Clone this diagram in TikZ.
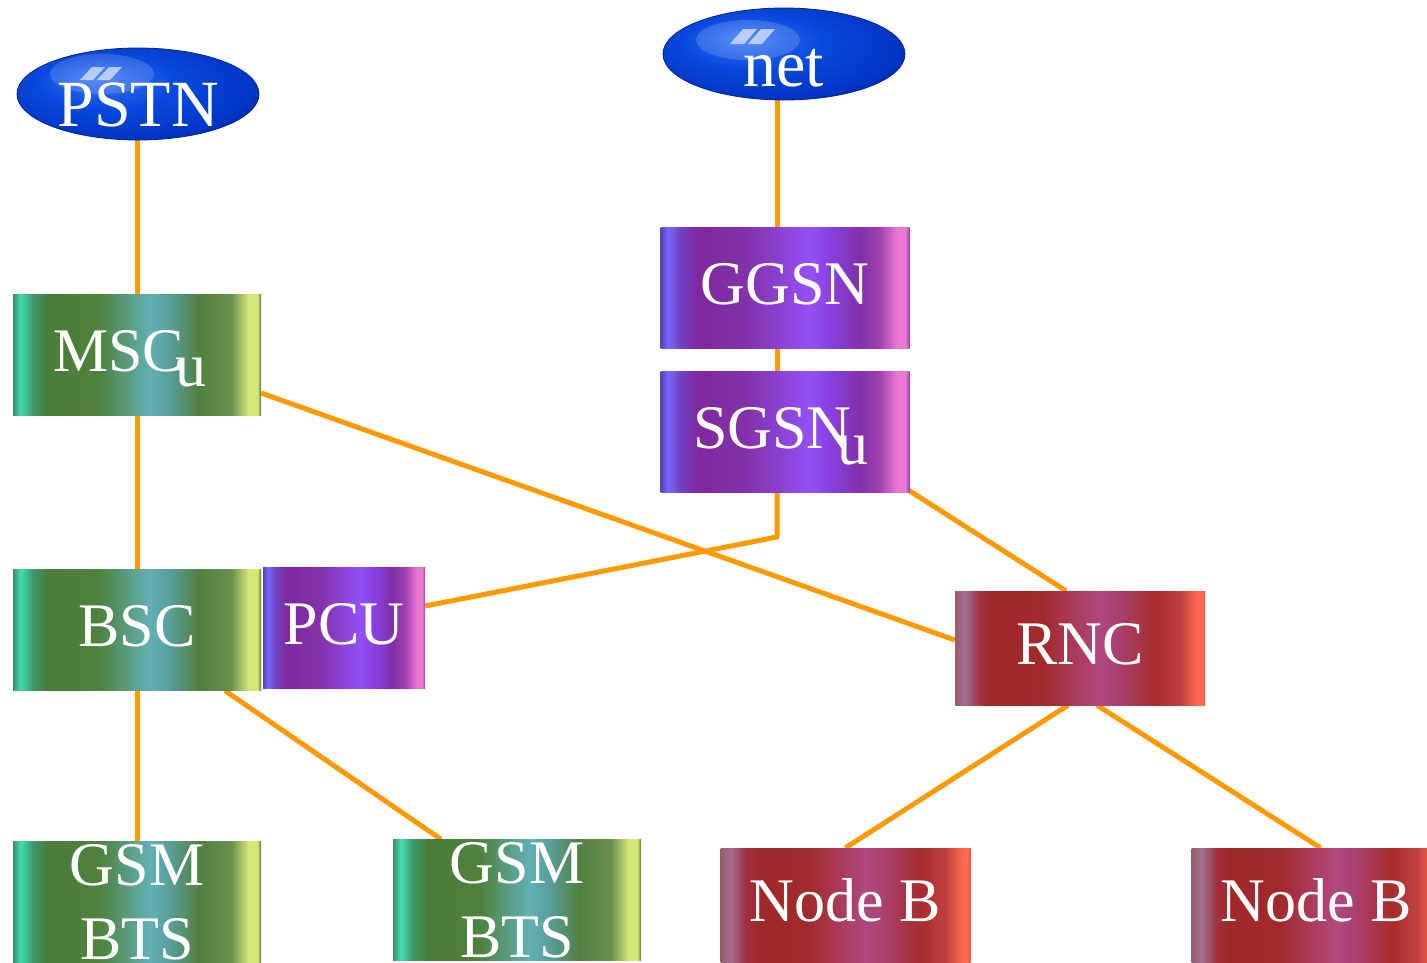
\documentclass[tikz,border=0pt]{standalone}
\usepackage{fontspec}
\setmainfont{Liberation Serif}
\usetikzlibrary{shapes.geometric,calc}
\pgfdeclarelayer{background}
\pgfsetlayers{background,main}

\definecolor{linkc}{HTML}{FF9900}
% green
\definecolor{ga}{HTML}{3A8C6C}\definecolor{gb}{HTML}{45DCB2}\definecolor{gc}{HTML}{3C9868}
\definecolor{gd}{HTML}{4A7C3A}\definecolor{ge}{HTML}{4E823E}\definecolor{gf}{HTML}{62B0B4}
\definecolor{gg}{HTML}{5AA0A0}\definecolor{gh}{HTML}{528040}\definecolor{gi}{HTML}{6A9050}
\definecolor{gj}{HTML}{D4E878}\definecolor{gk}{HTML}{4A7A30}
% purple
\definecolor{pa}{HTML}{6040B0}\definecolor{pb}{HTML}{7868FF}\definecolor{pc}{HTML}{7040C0}
\definecolor{pd}{HTML}{8028A0}\definecolor{pe}{HTML}{8232AA}\definecolor{pf}{HTML}{9450F6}
\definecolor{pg}{HTML}{8A40E0}\definecolor{ph}{HTML}{8030A8}\definecolor{pi}{HTML}{A040B0}
\definecolor{pj}{HTML}{E878D0}\definecolor{pk}{HTML}{9040B0}
% red
\definecolor{ra}{HTML}{9A5A70}\definecolor{rb}{HTML}{A07090}\definecolor{rc}{HTML}{A03040}
\definecolor{rd}{HTML}{A02828}\definecolor{re}{HTML}{A22A2C}\definecolor{rf}{HTML}{B04880}
\definecolor{rg}{HTML}{A84070}\definecolor{rh}{HTML}{A82C2C}\definecolor{ri}{HTML}{C04040}
\definecolor{rj}{HTML}{FF6A50}\definecolor{rk}{HTML}{E05040}
% blue
\definecolor{ba}{HTML}{3A78F6}\definecolor{bb}{HTML}{0A4ADE}\definecolor{bc}{HTML}{0034C4}
\definecolor{bd}{HTML}{00249A}

\pgfdeclarehorizontalshading{greenbar}{100bp}{color(0bp)=(ga); color(25bp)=(ga);
 color(26.5bp)=(gb); color(29bp)=(gc); color(32bp)=(gd); color(42.5bp)=(ge);
 color(52.5bp)=(gf); color(56bp)=(gg); color(62.5bp)=(gh); color(69bp)=(gi);
 color(72.5bp)=(gj); color(74.3bp)=(gj); color(75bp)=(gk); color(100bp)=(gk)}
\pgfdeclarehorizontalshading{purplebar}{100bp}{color(0bp)=(pa); color(25bp)=(pa);
 color(26.5bp)=(pb); color(29bp)=(pc); color(32.5bp)=(pd); color(42.5bp)=(pe);
 color(55bp)=(pf); color(59bp)=(pg); color(65bp)=(ph); color(69bp)=(pi);
 color(72.5bp)=(pj); color(74.2bp)=(pj); color(75bp)=(pk); color(100bp)=(pk)}
\pgfdeclarehorizontalshading{redbar}{100bp}{color(0bp)=(ra); color(25bp)=(ra);
 color(27bp)=(rb); color(30bp)=(rc); color(32.5bp)=(rd); color(42.5bp)=(re);
 color(54bp)=(rf); color(57.5bp)=(rg); color(65bp)=(rh); color(70bp)=(ri);
 color(73.5bp)=(rj); color(74.5bp)=(rj); color(75bp)=(rk); color(100bp)=(rk)}
\pgfdeclareradialshading{blueball}{\pgfpoint{-9bp}{9bp}}{color(0bp)=(ba);
 color(14bp)=(bb); color(28bp)=(bc); color(33bp)=(bd); color(50bp)=(bd)}

\tikzset{
  link/.style={draw=linkc, line width=5pt},
  box/.style={rectangle, inner sep=0pt, text=white,
    font=\fontsize{62}{74}\selectfont, text height=32pt, text depth=0pt},
  gbox/.style={box, shading=greenbar, minimum width=248pt, minimum height=121pt},
  pbox/.style={box, shading=purplebar, minimum width=249pt, minimum height=121pt},
  rbox/.style={box, shading=redbar, minimum width=250pt, minimum height=114pt},
  twoline/.style={text height=, text depth=, align=center},
  cloud/.style={ellipse, inner sep=0pt, minimum width=242pt, minimum height=92pt,
    shading=blueball, draw=bd, line width=0.8pt, text=white,
    font=\fontsize{66}{74}\selectfont, text height=64pt, text depth=0pt},
  gloss/.style={white, opacity=0.6},
}

\begin{document}
\begin{tikzpicture}[x=1pt,y=-1pt]
\useasboundingbox (0,0) rectangle (1427,962);

\node[cloud] (pstn) at (138,94) {PSTN};
\node[cloud] (net) at (784,54) {net};

\node[gbox] (msc) at (137,355) {MSC\kern-8pt\lower15pt\hbox{u}\kern14pt};
\node[pbox] (ggsn) at (785,288) {GGSN};
\node[pbox] (sgsn) at (785,432) {SGSN\kern-14pt\lower16pt\hbox{u}\kern8pt};
\node[gbox] (bsc) at (137,630) {BSC};
\node[pbox, minimum width=162pt] (pcu) at (344,628) {PCU};
\node[rbox] (rnc) at (1080,648) {RNC};
\node[gbox, twoline] (bts1) at (137,902) {GSM\\BTS};
\node[gbox, twoline] (bts2) at (517,900) {GSM\\BTS};
\node[rbox] (nodeb1) at (845.5,905) {Node B};
\node[rbox] (nodeb2) at (1316.5,905) {Node B};

% glossy highlights on the clouds
\fill[white, opacity=0.15] ($(pstn.center)+(-36,-20)$) ellipse (52pt and 20pt);
\fill[gloss] ($(pstn.center)+(-58,-14)$) -- ($(pstn.center)+(-46,-27)$) -- ($(pstn.center)+(-33,-27)$) -- ($(pstn.center)+(-45,-14)$) -- cycle;
\fill[gloss] ($(pstn.center)+(-41,-14)$) -- ($(pstn.center)+(-29,-27)$) -- ($(pstn.center)+(-16,-27)$) -- ($(pstn.center)+(-28,-14)$) -- cycle;
\fill[white, opacity=0.15] ($(net.center)+(-36,-14)$) ellipse (52pt and 20pt);
\fill[gloss] ($(net.center)+(-54,-10)$) -- ($(net.center)+(-41,-25)$) -- ($(net.center)+(-27,-25)$) -- ($(net.center)+(-40,-10)$) -- cycle;
\fill[gloss] ($(net.center)+(-36,-10)$) -- ($(net.center)+(-23,-25)$) -- ($(net.center)+(-9,-25)$) -- ($(net.center)+(-22,-10)$) -- cycle;

\coordinate (spine) at (777,0);
\coordinate (bend) at (777,537);

\begin{pgfonlayer}{background}
\draw[link] (pstn.south -| msc.north) -- (msc.north);
\draw[link] (msc.south) -- (bsc.north);
\draw[link] (bsc.south) -- (bts1.north);
\draw[link] ($(bsc.south)+(88,0)$) -- ($(bts2.north)+(-76,0)$);
\draw[link] ($(msc.east)+(0,38)$) -- ($(rnc.west)+(0,-8)$);
\draw[link] (net.south -| spine) -- (ggsn.north -| spine);
\draw[link] (ggsn.south -| spine) -- (sgsn.north -| spine);
\draw[link, line join=round] (sgsn.south -| bend) -- (bend) -- ($(pcu.east)+(0,-22)$);
\draw[link] ($(sgsn.south east)+(-5,-5)$) -- ($(rnc.north)+(-14,0)$);
\draw[link] ($(rnc.south)+(-12,0)$) -- (nodeb1.north);
\draw[link] ($(rnc.south)+(17,0)$) -- ($(nodeb2.north)+(4,0)$);
\end{pgfonlayer}
\end{tikzpicture}
\end{document}
